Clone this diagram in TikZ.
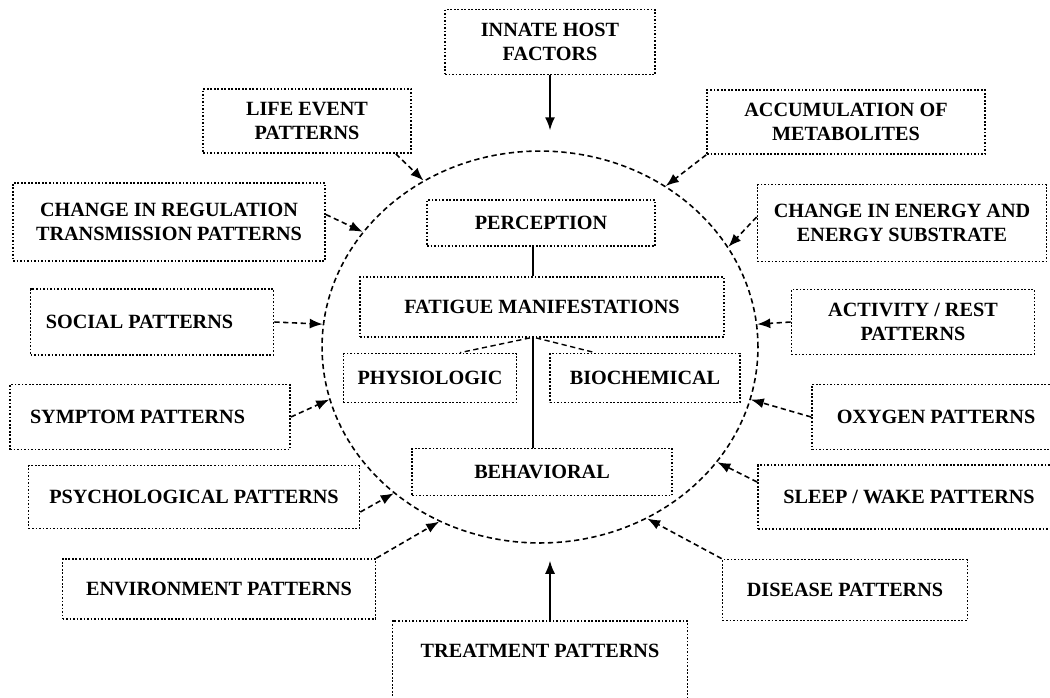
\documentclass[tikz,border=0pt]{standalone}
\usepackage{fontspec}
\setmainfont{Liberation Serif}
\usetikzlibrary{arrows.meta,shapes.geometric}

\begin{document}
\begin{tikzpicture}[
    x=0.02cm, y=-0.02cm,
    factor/.style={draw, densely dotted, line width=1pt, align=center, inner sep=2pt,
      font=\bfseries\fontsize{11.5}{14}\selectfont},
    feed/.style={densely dashed, line width=0.9pt, -{Latex[length=2.6mm,width=2mm]}},
    solidfeed/.style={line width=0.9pt, -{Latex[length=2.6mm,width=2mm]}},
    link/.style={line width=0.8pt}
  ]
  \useasboundingbox (0,0) rectangle (1050,697);
  \node[ellipse, draw, densely dashed, line width=0.9pt, minimum width=8.72cm,
    minimum height=7.84cm, inner sep=0] (core) at (540,347) {};

  % inside the circle
  \node[factor, minimum width=4.56cm, minimum height=0.92cm] (perception) at (541,223) {PERCEPTION};
  \node[factor, minimum width=7.28cm, minimum height=1.2cm] (fatigue) at (542,307) {FATIGUE MANIFESTATIONS};
  \node[factor, minimum width=3.46cm, minimum height=0.98cm] (physio) at (430,378) {PHYSIOLOGIC};
  \node[factor, minimum width=3.8cm, minimum height=0.98cm] (biochem) at (645,378) {BIOCHEMICAL};
  \node[factor, minimum width=5.2cm, minimum height=0.94cm] (behav) at (542,472) {BEHAVIORAL};

  \draw[link] (perception.south -| 533,0) -- (fatigue.north -| 533,0);
  \draw[link] (fatigue.south -| 533,0) -- (behav.north -| 533,0);
  \draw[link, densely dashed] (fatigue.south -| 530,0) -- (physio.north -| 460,0);
  \draw[link, densely dashed] (fatigue.south -| 536,0) -- (biochem.north -| 595,0);

  % factors round the circle
  \node[factor, minimum width=4.2cm, minimum height=1.3cm] (innate) at (550,42) {INNATE HOST\\FACTORS};
  \node[factor, minimum width=4.16cm, minimum height=1.28cm] (life) at (307,121) {LIFE EVENT\\PATTERNS};
  \node[factor, minimum width=5.56cm, minimum height=1.28cm] (accum) at (846,122) {ACCUMULATION OF\\METABOLITES};
  \node[factor, minimum width=6.24cm, minimum height=1.56cm] (regul) at (169,222) {CHANGE IN REGULATION\\TRANSMISSION PATTERNS};
  \node[factor, minimum width=5.78cm, minimum height=1.54cm] (energy) at (902,223) {CHANGE IN ENERGY AND\\ENERGY SUBSTRATE};
  \node[factor, minimum width=4.86cm, minimum height=1.32cm] (social) at (152,322) {SOCIAL PATTERNS\hspace{0.5cm}};
  \node[factor, minimum width=4.86cm, minimum height=1.3cm] (activity) at (913,322) {ACTIVITY / REST\\PATTERNS};
  \node[factor, minimum width=5.6cm, minimum height=1.3cm] (symptom) at (150,417) {SYMPTOM PATTERNS\hspace{0.5cm}};
  \node[factor, minimum width=4.96cm, minimum height=1.3cm] (oxygen) at (936,417) {OXYGEN PATTERNS};
  \node[factor, minimum width=6.62cm, minimum height=1.26cm] (psych) at (194,497) {PSYCHOLOGICAL PATTERNS};
  \node[factor, minimum width=6.04cm, minimum height=1.28cm] (sleep) at (909,497) {SLEEP / WAKE PATTERNS};
  \node[factor, minimum width=6.26cm, minimum height=1.2cm] (environ) at (219,589) {ENVIRONMENT PATTERNS};
  \node[factor, minimum width=4.9cm, minimum height=1.22cm] (disease) at (845,590) {DISEASE PATTERNS};
  \node[factor, minimum width=5.9cm, minimum height=1.7cm, text depth=0.5cm, anchor=north] (treatment) at (540,620) {TREATMENT PATTERNS};

  \draw[solidfeed, shorten >=0.4cm] (innate.south) -- (innate.south |- core.north);
  \draw[feed] ([xshift=-0.32cm]life.south east) -- (core.125);
  \draw[feed] (accum.south west) -- (core.52);
  \draw[feed] ([yshift=0.15cm]regul.east) -- (core.147);
  \draw[feed] ([yshift=0.12cm]energy.west) -- (core.28);
  \draw[feed] (social.east) -- (core.174);
  \draw[feed] (activity.west) -- (core.6);
  \draw[feed] (symptom.east) -- (core.194);
  \draw[feed] (oxygen.west) -- (core.-14);
  \draw[feed] ([yshift=-0.3cm]psych.east) -- (core.225);
  \draw[feed] ([yshift=0.3cm]sleep.west) -- (core.-33);
  \draw[feed] (environ.north east) -- (core.240);
  \draw[feed] (disease.north west) -- (core.-58);
  \draw[solidfeed, shorten >=0.34cm] (treatment.north -| 550,0) -- (core.south -| 550,0);
\end{tikzpicture}
\end{document}
